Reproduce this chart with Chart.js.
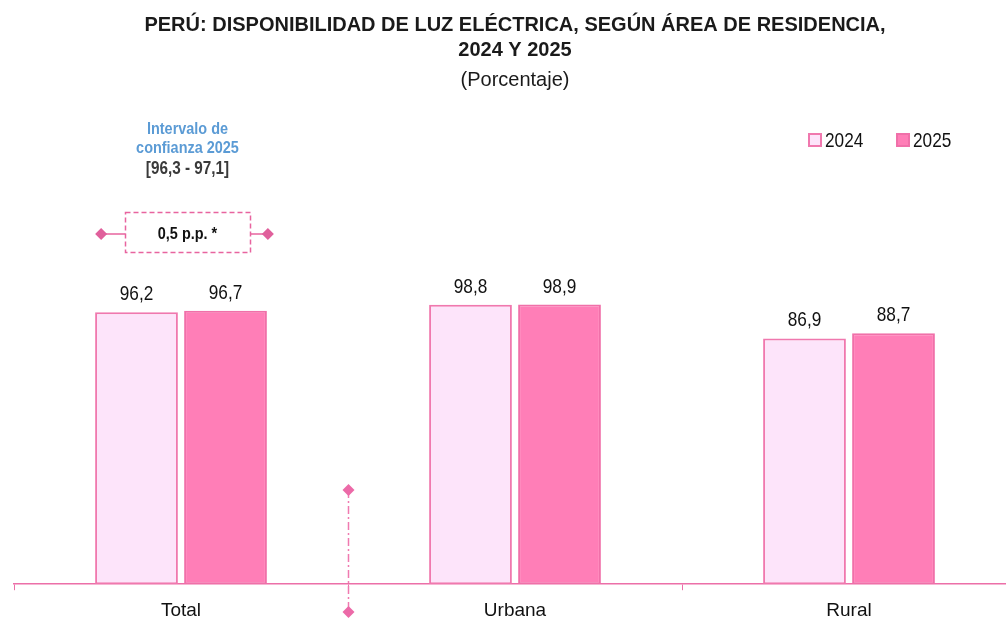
<!DOCTYPE html>
<html>
<head>
<meta charset="utf-8">
<script src="https://cdn.jsdelivr.net/npm/chart.js@4.4.1/dist/chart.umd.min.js"></script>
<style>
html, body { margin:0; padding:0; overflow:hidden; background:#fff; }
#wrap { width:1016px; height:619px; }
</style>
</head>
<body>
<div id="wrap"><canvas id="c" width="1016" height="619"></canvas></div>
<script>
const categories = ['Total', 'Urbana', 'Rural'];
const seriesLabels = ['2024', '2025'];
const values2024 = [96.2, 98.8, 86.9];
const values2025 = [96.7, 98.9, 88.7];
const ciLines = ['Intervalo de', 'confianza 2025'];
const ciRange = '[96,3 - 97,1]';
const diffLabel = '0,5 p.p. *';

const FONT = '"Liberation Sans Narrow", "Arial Narrow", "Liberation Sans", Arial, sans-serif';
const PINK_AXIS = '#ec6fa8';
const fmt = v => v.toFixed(1).replace('.', ',');

function diamond(ctx, x, y, r, color) {
  ctx.save();
  ctx.fillStyle = color;
  ctx.beginPath();
  ctx.moveTo(x, y - r); ctx.lineTo(x + r, y); ctx.lineTo(x, y + r); ctx.lineTo(x - r, y);
  ctx.closePath(); ctx.fill();
  ctx.restore();
}

// draw horizontally condensed text (mimics a narrow typeface)
function narrowText(ctx, text, x, y, sx) {
  ctx.save();
  ctx.translate(x, y);
  ctx.scale(sx, 1);
  ctx.fillText(text, 0, 0);
  ctx.restore();
}

const decor = {
  id: 'decor',
  afterDatasetsDraw(chart) {
    const ctx = chart.ctx;
    ctx.save();
    ctx.font = '21px ' + FONT;
    ctx.fillStyle = '#111';
    ctx.textAlign = 'center';
    ctx.textBaseline = 'alphabetic';
    chart.data.datasets.forEach((ds, di) => {
      chart.getDatasetMeta(di).data.forEach((bar, i) => {
        narrowText(ctx, fmt(ds.data[i]), bar.x, bar.y - 12, 0.82);
      });
    });
    ctx.restore();
  },
  afterDraw(chart) {
    const ctx = chart.ctx;
    const xs = chart.scales.x;
    // dash-dot separator between Total and Urbana
    const sx = Math.round(xs.getPixelForValue(0.5)) + 0.5;
    const yTop = 490, yBot = 612;
    ctx.save();
    ctx.strokeStyle = '#f07ab0';
    ctx.lineWidth = 1.5;
    ctx.setLineDash([8, 3, 2, 3]);
    ctx.beginPath(); ctx.moveTo(sx, yTop); ctx.lineTo(sx, yBot); ctx.stroke();
    ctx.restore();
    diamond(ctx, sx, yTop, 6, '#ec6aa8');
    diamond(ctx, sx, yBot, 6, '#ec6aa8');

    // annotation above Total
    const m0 = chart.getDatasetMeta(0).data[0];
    const m1 = chart.getDatasetMeta(1).data[0];
    const lx = m0.x - m0.width / 2 + 6;
    const rx = m1.x + m1.width / 2 + 1;
    const cx = 187.5;
    const ay = 234;
    const bx0 = 125.5, bx1 = 250.5, by0 = 212.5, by1 = 252.5;
    ctx.save();
    ctx.strokeStyle = '#e8649f';
    ctx.lineWidth = 1.5;
    ctx.beginPath(); ctx.moveTo(lx, ay); ctx.lineTo(bx0, ay); ctx.moveTo(bx1, ay); ctx.lineTo(rx, ay); ctx.stroke();
    ctx.setLineDash([5, 3]);
    ctx.strokeRect(bx0, by0, bx1 - bx0, by1 - by0);
    ctx.restore();
    diamond(ctx, lx, ay, 6, '#e0609c');
    diamond(ctx, rx, ay, 6, '#e0609c');

    ctx.save();
    ctx.textAlign = 'center';
    ctx.textBaseline = 'middle';
    ctx.font = 'bold 17px ' + FONT;
    ctx.fillStyle = '#111';
    narrowText(ctx, diffLabel, cx, ay, 0.85);
    ctx.fillStyle = '#5b9bd5';
    narrowText(ctx, ciLines[0], cx, 129, 0.85);
    narrowText(ctx, ciLines[1], cx, 148, 0.85);
    ctx.font = 'bold 18px ' + FONT;
    ctx.fillStyle = '#3a3a3a';
    narrowText(ctx, ciRange, cx, 169, 0.85);
    ctx.restore();

    // legend
    ctx.save();
    ctx.font = '21px ' + FONT;
    ctx.textBaseline = 'middle';
    ctx.textAlign = 'left';
    const legX = [808, 896];
    chart.data.datasets.forEach((ds, di) => {
      const x = legX[di], y = 133;
      ctx.fillStyle = ds.backgroundColor;
      ctx.fillRect(x, y, 14, 14);
      ctx.strokeStyle = ds.borderColor;
      ctx.lineWidth = 2;
      ctx.strokeRect(x + 1, y + 1, 12, 12);
      ctx.fillStyle = '#111';
      narrowText(ctx, ds.label, x + 17, y + 8, 0.82);
    });
    ctx.restore();
  }
};

new Chart(document.getElementById('c'), {
  type: 'bar',
  data: {
    labels: categories,
    datasets: [
      { label: seriesLabels[0], data: values2024, backgroundColor: '#fde4fa', borderColor: '#f078ae', borderWidth: 2, borderSkipped: false },
      { label: seriesLabels[1], data: values2025, backgroundColor: '#ff7eb7', borderColor: '#f070a9', borderWidth: 2, borderSkipped: false }
    ]
  },
  options: {
    responsive: false,
    animation: false,
    devicePixelRatio: 1,
    categoryPercentage: 0.533,
    barPercentage: 0.93,
    layout: { padding: { left: 14, right: 0, top: 0, bottom: -12 } },
    plugins: {
      legend: { display: false },
      tooltip: { enabled: false },
      title: {
        display: true,
        text: ['PERÚ: DISPONIBILIDAD DE LUZ ELÉCTRICA, SEGÚN ÁREA DE RESIDENCIA,', '2024 Y 2025'],
        color: '#1a1a1a',
        font: { family: FONT, size: 20, weight: 'bold', lineHeight: 1.25 },
        padding: { top: 13, bottom: 5 }
      },
      subtitle: {
        display: true,
        text: '(Porcentaje)',
        color: '#1a1a1a',
        font: { family: FONT, size: 20, weight: 'normal', lineHeight: 1.25 },
        padding: { top: 0, bottom: 69 }
      }
    },
    scales: {
      x: {
        grid: { display: true, drawOnChartArea: false, drawTicks: true, tickLength: 6, color: PINK_AXIS, offset: true },
        border: { display: true, color: PINK_AXIS, width: 1.5 },
        ticks: { color: '#111', font: { family: FONT, size: 19 }, padding: 9 }
      },
      y: {
        display: false,
        min: 0,
        max: 149.3
      }
    }
  },
  plugins: [decor]
});
</script>
</body>
</html>
